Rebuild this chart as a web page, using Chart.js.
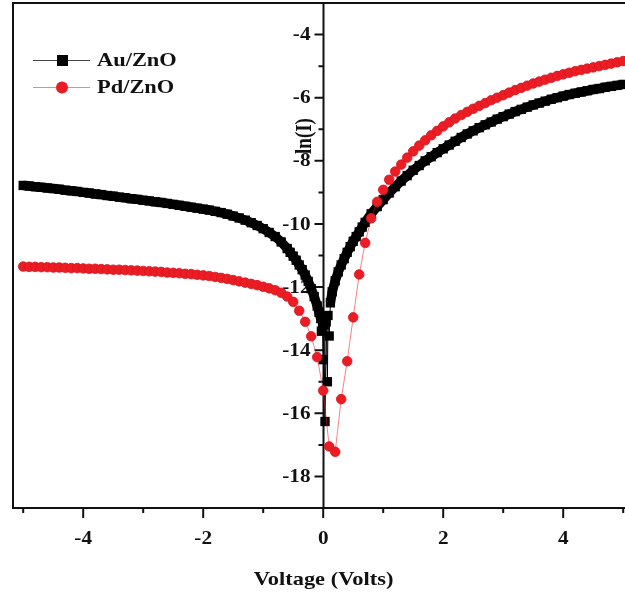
<!DOCTYPE html>
<html>
<head>
<meta charset="utf-8">
<script src="https://cdn.jsdelivr.net/npm/chart.js@4"></script>
<style>
  html, body { margin: 0; padding: 0; background: #fff; }
  canvas { display: block; }
</style>
</head>
<body>
<canvas id="chart" width="625" height="597"></canvas>
<script>
// Au/ZnO (black squares)
const auVolts = [
  -5.0, -4.9, -4.8, -4.7, -4.6, -4.5, -4.4, -4.3, -4.2, -4.1,
  -4.0, -3.9, -3.8, -3.7, -3.6, -3.5, -3.4, -3.3, -3.2, -3.1,
  -3.0, -2.9, -2.8, -2.7, -2.6, -2.5, -2.4, -2.3, -2.2, -2.1,
  -2.0, -1.9, -1.8, -1.7, -1.6, -1.5, -1.4, -1.3, -1.2, -1.1,
  -1.0, -0.9, -0.8, -0.7, -0.6, -0.55, -0.5, -0.45, -0.4, -0.35,
  -0.3, -0.25, -0.2, -0.15, -0.1, -0.07, -0.04, -0.03, -0.01, 0.0,
  0.01, 0.03, 0.05, 0.07, 0.08, 0.1, 0.12, 0.15, 0.2, 0.25,
  0.3, 0.35, 0.4, 0.45, 0.5, 0.55, 0.6, 0.65, 0.7, 0.8,
  0.9, 1.0, 1.1, 1.2, 1.3, 1.4, 1.5, 1.6, 1.7, 1.8,
  1.9, 2.0, 2.1, 2.2, 2.3, 2.4, 2.5, 2.6, 2.7, 2.8,
  2.9, 3.0, 3.1, 3.2, 3.3, 3.4, 3.5, 3.6, 3.7, 3.8,
  3.9, 4.0, 4.1, 4.2, 4.3, 4.4, 4.5, 4.6, 4.7, 4.8,
  4.9, 5.0
];
const auLnI = [
  -8.78, -8.80, -8.82, -8.84, -8.86, -8.88, -8.90, -8.93, -8.95, -8.97,
  -9.00, -9.02, -9.05, -9.07, -9.10, -9.12, -9.15, -9.17, -9.20, -9.22,
  -9.25, -9.27, -9.30, -9.32, -9.35, -9.38, -9.41, -9.44, -9.47, -9.50,
  -9.53, -9.56, -9.60, -9.64, -9.69, -9.75, -9.81, -9.88, -9.96, -10.05,
  -10.15, -10.27, -10.40, -10.57, -10.78, -10.90, -11.02, -11.15, -11.30, -11.45,
  -11.62, -11.82, -12.05, -12.30, -12.60, -12.80, -13.00, -13.40, -13.15, -14.30,
  -13.20, -16.26, -13.10, -15.00, -12.90, -13.55, -12.50, -12.15, -11.80, -11.52,
  -11.30, -11.10, -10.90, -10.72, -10.55, -10.40, -10.25, -10.10, -9.95, -9.68,
  -9.45, -9.23, -9.02, -8.82, -8.64, -8.47, -8.30, -8.15, -8.00, -7.87,
  -7.74, -7.62, -7.50, -7.38, -7.26, -7.15, -7.05, -6.95, -6.86, -6.77,
  -6.68, -6.60, -6.52, -6.44, -6.37, -6.30, -6.23, -6.17, -6.11, -6.05,
  -6.00, -5.95, -5.90, -5.86, -5.82, -5.78, -5.74, -5.71, -5.67, -5.64,
  -5.61, -5.58
];

// Pd/ZnO (red circles)
const pdVolts = [
  -5.0, -4.9, -4.8, -4.7, -4.6, -4.5, -4.4, -4.3, -4.2, -4.1,
  -4.0, -3.9, -3.8, -3.7, -3.6, -3.5, -3.4, -3.3, -3.2, -3.1,
  -3.0, -2.9, -2.8, -2.7, -2.6, -2.5, -2.4, -2.3, -2.2, -2.1,
  -2.0, -1.9, -1.8, -1.7, -1.6, -1.5, -1.4, -1.3, -1.2, -1.1,
  -1.0, -0.9, -0.8, -0.7, -0.6, -0.5, -0.4, -0.3, -0.2, -0.1,
  0.0, 0.1, 0.2, 0.3, 0.4, 0.5, 0.6, 0.7, 0.8, 0.9,
  1.0, 1.1, 1.2, 1.3, 1.4, 1.5, 1.6, 1.7, 1.8, 1.9,
  2.0, 2.1, 2.2, 2.3, 2.4, 2.5, 2.6, 2.7, 2.8, 2.9,
  3.0, 3.1, 3.2, 3.3, 3.4, 3.5, 3.6, 3.7, 3.8, 3.9,
  4.0, 4.1, 4.2, 4.3, 4.4, 4.5, 4.6, 4.7, 4.8, 4.9,
  5.0
];
const pdLnI = [
  -11.35, -11.36, -11.36, -11.37, -11.37, -11.38, -11.38, -11.39, -11.40, -11.40,
  -11.41, -11.42, -11.42, -11.43, -11.44, -11.45, -11.45, -11.46, -11.47, -11.48,
  -11.49, -11.50, -11.51, -11.52, -11.54, -11.55, -11.56, -11.58, -11.59, -11.61,
  -11.63, -11.65, -11.68, -11.71, -11.74, -11.78, -11.82, -11.86, -11.90, -11.94,
  -11.99, -12.04, -12.10, -12.18, -12.30, -12.47, -12.75, -13.10, -13.56, -14.22,
  -15.28, -17.05, -17.22, -15.55, -14.35, -12.96, -11.60, -10.60, -9.82, -9.30,
  -8.92, -8.60, -8.34, -8.12, -7.90, -7.70, -7.52, -7.35, -7.19, -7.05,
  -6.91, -6.78, -6.66, -6.55, -6.45, -6.35, -6.26, -6.17, -6.08, -6.00,
  -5.92, -5.84, -5.76, -5.69, -5.62, -5.55, -5.49, -5.43, -5.37, -5.31,
  -5.26, -5.21, -5.16, -5.12, -5.08, -5.04, -5.00, -4.96, -4.92, -4.88,
  -4.84
];

// axis ticks
const xMajorTicks = [-4, -2, 0, 2, 4];
const xMinorTicks = [-5, -3, -1, 1, 3, 5];
const yMajorTicks = [-18, -16, -14, -12, -10, -8, -6, -4];
const yMinorTicks = [-17, -15, -13, -11, -9, -7, -5];

const RED = '#ec1c24';
const INK = '#111';
const FONT = '"Liberation Serif", "DejaVu Serif", serif';
const SX = 1.18; // the source picture is stretched sideways a little

function toPoints(xs, ys) {
  return xs.map((v, i) => ({ x: v, y: ys[i] }));
}

function text(ctx, str, px, py, size, align, baseline, rot) {
  ctx.save();
  ctx.translate(px, py);
  if (rot) {
    ctx.rotate(rot);
    ctx.scale(1, SX);
  } else {
    ctx.scale(SX, 1);
  }
  ctx.font = `bold ${size}px ${FONT}`;
  ctx.fillStyle = INK;
  ctx.textAlign = align;
  ctx.textBaseline = baseline;
  ctx.fillText(str, 0, 0);
  ctx.restore();
}

// frame, axes through zero, tick labels and titles
const decor = {
  id: 'decor',
  beforeDatasetsDraw(chart) {
    const { ctx, chartArea: a, scales: { x, y } } = chart;
    const x0 = Math.round(x.getPixelForValue(0)) + 0.5;
    ctx.save();
    ctx.strokeStyle = INK;
    ctx.lineWidth = 2;
    ctx.beginPath();
    ctx.moveTo(a.right + 2, a.top);
    ctx.lineTo(a.left, a.top);
    ctx.lineTo(a.left, a.bottom);
    ctx.lineTo(a.right + 2, a.bottom);
    ctx.stroke();

    // y axis at V = 0
    ctx.beginPath();
    ctx.moveTo(x0, a.top);
    ctx.lineTo(x0, a.bottom);
    yMajorTicks.forEach(v => {
      const py = y.getPixelForValue(v);
      ctx.moveTo(x0, py); ctx.lineTo(x0 - 9, py);
    });
    yMinorTicks.forEach(v => {
      const py = y.getPixelForValue(v);
      ctx.moveTo(x0, py); ctx.lineTo(x0 - 5, py);
    });
    xMajorTicks.forEach(v => {
      const px = x.getPixelForValue(v);
      ctx.moveTo(px, a.bottom); ctx.lineTo(px, a.bottom + 10);
    });
    xMinorTicks.forEach(v => {
      const px = x.getPixelForValue(v);
      ctx.moveTo(px, a.bottom); ctx.lineTo(px, a.bottom + 5);
    });
    ctx.stroke();

    yMajorTicks.forEach(v => {
      text(ctx, String(v), x0 - 13, y.getPixelForValue(v) + 1, 18, 'right', 'middle');
    });
    xMajorTicks.forEach(v => {
      text(ctx, String(v), x.getPixelForValue(v), a.bottom + 31, 18, 'center', 'middle');
    });
    text(ctx, 'Voltage (Volts)', x0, 585, 19, 'center', 'alphabetic');
    text(ctx, 'ln(I)', x0 - 18, 136, 19, 'center', 'middle', -Math.PI / 2);
    ctx.restore();
  },
  afterDatasetsDraw(chart) {
    const { ctx } = chart;
    ctx.save();
    // Au/ZnO entry
    ctx.strokeStyle = '#444';
    ctx.lineWidth = 1;
    ctx.beginPath();
    ctx.moveTo(33, 60.5); ctx.lineTo(90, 60.5);
    ctx.stroke();
    ctx.fillStyle = '#000';
    ctx.fillRect(57, 55, 11, 11);
    text(ctx, 'Au/ZnO', 97, 61, 19, 'left', 'middle');
    // Pd/ZnO entry
    ctx.strokeStyle = 'rgba(236,28,36,0.55)';
    ctx.beginPath();
    ctx.moveTo(33, 87.5); ctx.lineTo(90, 87.5);
    ctx.stroke();
    ctx.fillStyle = RED;
    ctx.beginPath();
    ctx.arc(62, 87.5, 6, 0, Math.PI * 2);
    ctx.fill();
    text(ctx, 'Pd/ZnO', 97, 88, 19, 'left', 'middle');
    ctx.restore();
  }
};

// the Au sweep is dense in the original, so its connecting line is drawn as a
// thick band except through the noisy points around 0 V
function auSegmentWidth(c) {
  const a = c.p0.parsed.x, b = c.p1.parsed.x;
  return (a > -0.05 && a < 0.11) || (b > -0.02 && b < 0.11) ? 1 : 9.5;
}

new Chart(document.getElementById('chart'), {
  type: 'scatter',
  data: {
    datasets: [
      {
        label: 'Pd/ZnO',
        data: toPoints(pdVolts, pdLnI),
        showLine: true,
        borderColor: 'rgba(236,28,36,0.55)',
        borderWidth: 1,
        pointStyle: 'circle',
        pointRadius: 4.8,
        pointBackgroundColor: RED,
        pointBorderColor: '#d8161d',
        pointBorderWidth: 0.8
      },
      {
        label: 'Au/ZnO',
        data: toPoints(auVolts, auLnI),
        showLine: true,
        borderColor: '#000',
        borderWidth: 1,
        borderJoinStyle: 'round',
        segment: { borderWidth: auSegmentWidth },
        pointStyle: 'rect',
        pointRadius: 6.6,
        pointBackgroundColor: '#000',
        pointBorderColor: '#000',
        pointBorderWidth: 0
      }
    ]
  },
  options: {
    responsive: false,
    animation: false,
    devicePixelRatio: 1,
    layout: { autoPadding: false, padding: { left: 13, top: 3, right: 0, bottom: 89 } },
    plugins: {
      legend: { display: false },
      tooltip: { enabled: false }
    },
    scales: {
      x: { type: 'linear', min: -5.17, max: 5.03, display: false,
           ticks: { display: false }, grid: { display: false } },
      y: { type: 'linear', min: -19, max: -3, display: false,
           ticks: { display: false }, grid: { display: false } }
    }
  },
  plugins: [decor]
});
</script>
</body>
</html>
